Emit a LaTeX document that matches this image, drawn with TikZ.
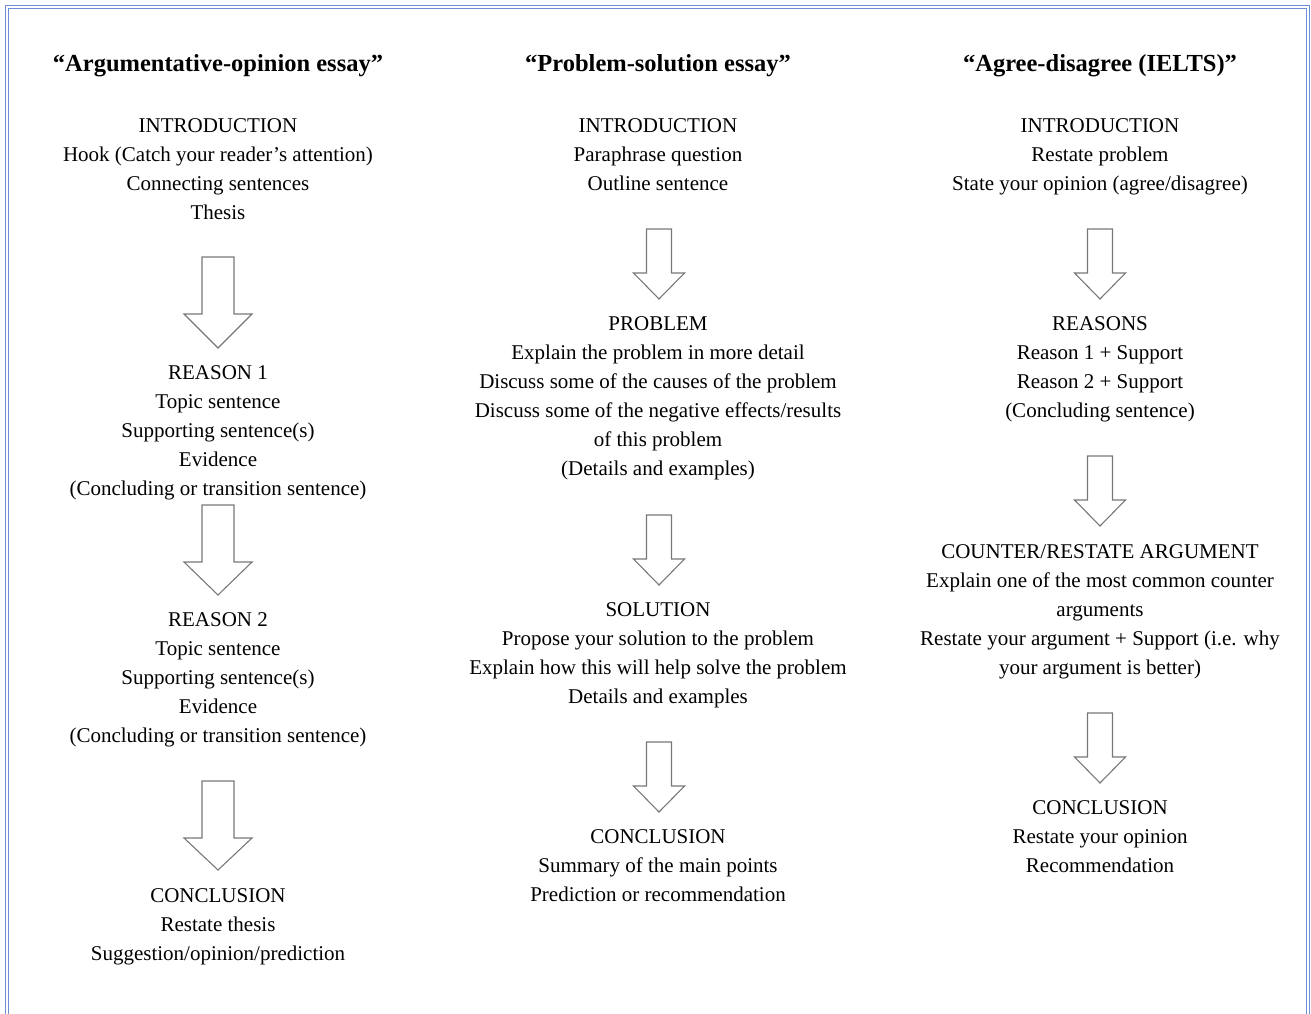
\documentclass[tikz,border=0pt]{standalone}
\usepackage{fontspec}
\setmainfont{Liberation Serif}
\usepackage{array}
\definecolor{bordercol}{RGB}{108,143,214}
\definecolor{arrowcol}{RGB}{120,120,120}
\newcommand\blk[1]{\begin{tabular}[t]{@{}c@{}}#1\end{tabular}}
\newcommand\blockarrow[6]{%
  \draw[arrowline] ({#1-#5},#2) -- ({#1+#5},#2) -- ({#1+#5},#3) -- ({#1+#6},#3)
    -- (#1,#4) -- ({#1-#6},#3) -- ({#1-#5},#3) -- cycle;}
\tikzset{
  txt/.style={anchor=base, inner sep=0pt, font=\fontsize{21}{29}\selectfont},
  ttl/.style={anchor=base, inner sep=0pt, font=\fontsize{24.5}{29}\selectfont\bfseries},
  arrowline/.style={draw=arrowcol, line width=1.1pt, line join=miter},
}
\begin{document}
\begin{tikzpicture}[x=1pt, y=-1pt]
\useasboundingbox (0,0) rectangle (1311,1014);
\begin{scope}
\clip (0,0) rectangle (1311,1014);
\draw[bordercol, line width=1pt] (5.7,1030) -- (5.7,5.7) -- (1309.2,5.7) -- (1309.2,1030);
\draw[bordercol, line width=1pt] (8.2,1030) -- (8.2,8.2) -- (1306.7,8.2) -- (1306.7,1030);
\end{scope}

% Titles
\node[ttl] (t1) at (218,72) {“Argumentative-opinion essay”};
\node[ttl] (t2) at (658,72) {“Problem-solution essay”};
\node[ttl] (t3) at (1100,72) {“Agree-disagree (IELTS)”};

% Left column
\node[txt] (l1) at (218,132) {\blk{INTRODUCTION\\Hook (Catch your reader’s attention)\\Connecting sentences\\Thesis}};
\node[txt] (l2) at (218,379) {\blk{REASON 1\\Topic sentence\\Supporting sentence(s)\\Evidence\\(Concluding or transition sentence)}};
\node[txt] (l3) at (218,626) {\blk{REASON 2\\Topic sentence\\Supporting sentence(s)\\Evidence\\(Concluding or transition sentence)}};
\node[txt] (l4) at (218,902) {\blk{CONCLUSION\\Restate thesis\\Suggestion/opinion/prediction}};
\blockarrow{218}{257}{314}{348}{16}{34}
\blockarrow{218}{505}{562}{595}{16}{34}
\blockarrow{218}{781}{838}{870}{16}{34}

% Middle column
\node[txt] (m1) at (658,132) {\blk{INTRODUCTION\\Paraphrase question\\Outline sentence}};
\node[txt] (m2) at (658,330) {\blk{PROBLEM\\Explain the problem in more detail\\Discuss some of the causes of the problem\\Discuss some of the negative effects/results\\of this problem\\(Details and examples)}};
\node[txt] (m3) at (658,616) {\blk{SOLUTION\\Propose your solution to the problem\\Explain how this will help solve the problem\\Details and examples}};
\node[txt] (m4) at (658,843) {\blk{CONCLUSION\\Summary of the main points\\Prediction or recommendation}};
\blockarrow{659}{229}{273}{299}{12.5}{25.5}
\blockarrow{659}{515}{559}{585}{12.5}{25.5}
\blockarrow{659}{742}{786}{812}{12.5}{25.5}

% Right column
\node[txt] (r1) at (1100,132) {\blk{INTRODUCTION\\Restate problem\\State your opinion (agree/disagree)}};
\node[txt] (r2) at (1100,330) {\blk{REASONS\\Reason 1 + Support\\Reason 2 + Support\\(Concluding sentence)}};
\node[txt] (r3) at (1100,558) {\blk{COUNTER/RESTATE ARGUMENT\\Explain one of the most common counter\\arguments\\Restate your argument + Support (i.e. why\\your argument is better)}};
\node[txt] (r4) at (1100,814) {\blk{CONCLUSION\\Restate your opinion\\Recommendation}};
\blockarrow{1100}{229}{273}{299}{12.5}{25.5}
\blockarrow{1100}{456}{500}{526}{12.5}{25.5}
\blockarrow{1100}{713}{757}{783}{12.5}{25.5}
\end{tikzpicture}
\end{document}
